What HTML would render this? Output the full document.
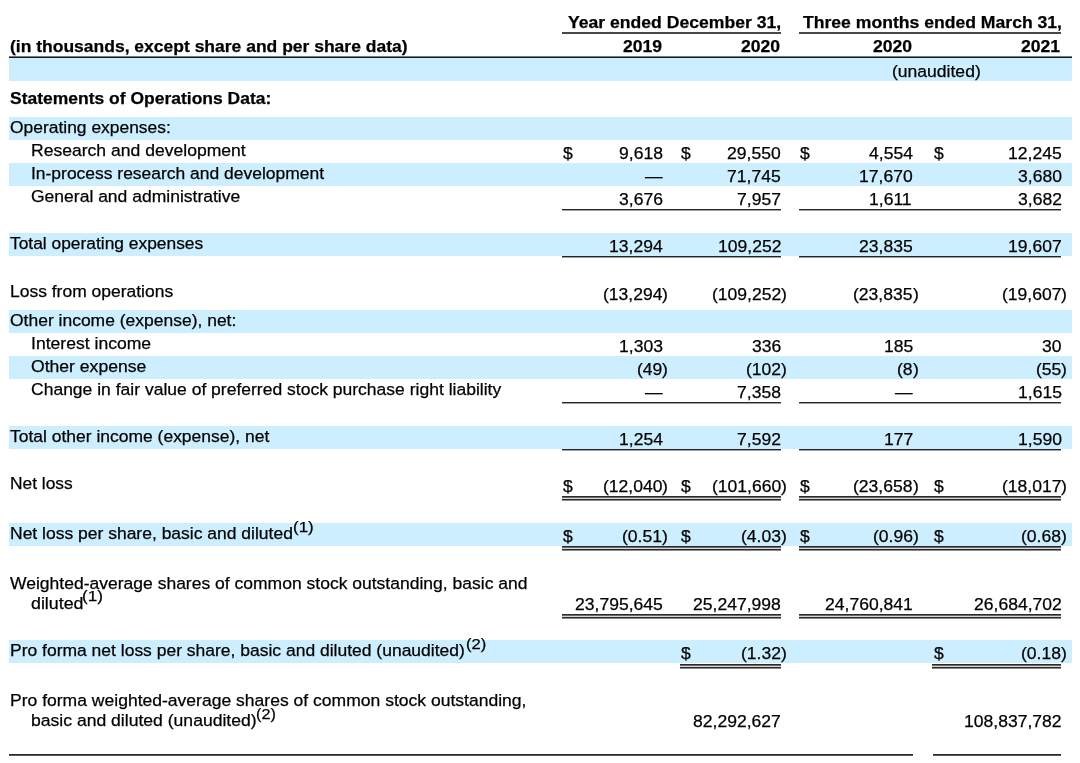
<!DOCTYPE html>
<html><head><meta charset="utf-8"><style>
html,body{margin:0;padding:0;background:#fff;}
body{width:1080px;height:763px;position:relative;overflow:hidden;font-family:"Liberation Sans",sans-serif;color:#000;}
.t,.s{position:absolute;white-space:nowrap;will-change:transform;-webkit-text-stroke:0.25px #000;line-height:20px;transform-origin:0 0;}
.t{font-size:17.2px;transform:scaleX(1.0203);}
.t.b{font-weight:bold;transform:scaleX(1.0233);}
.s{font-size:15.4px;}
.r{position:absolute;}
</style></head><body>
<div class="r" style="left:9px;top:58px;width:1063px;height:23px;background:#cceeff"></div>
<div class="r" style="left:9px;top:117px;width:1063px;height:23px;background:#cceeff"></div>
<div class="r" style="left:9px;top:163px;width:1063px;height:23px;background:#cceeff"></div>
<div class="r" style="left:9px;top:233px;width:1063px;height:23px;background:#cceeff"></div>
<div class="r" style="left:9px;top:310px;width:1063px;height:23px;background:#cceeff"></div>
<div class="r" style="left:9px;top:356px;width:1063px;height:23px;background:#cceeff"></div>
<div class="r" style="left:9px;top:426px;width:1063px;height:23px;background:#cceeff"></div>
<div class="r" style="left:9px;top:523px;width:1063px;height:23px;background:#cceeff"></div>
<div class="r" style="left:9px;top:640px;width:1063px;height:23px;background:#cceeff"></div>
<div class="t b" style="left:568.14px;top:12px">Year ended December 31,</div>
<div class="t b" style="left:802.61px;top:12px">Three months ended March 31,</div>
<div class="r" style="left:562px;top:32px;width:219px;height:1px;background:#484848"></div>
<div class="r" style="left:562px;top:33px;width:219px;height:1px;background:#484848"></div>
<div class="r" style="left:799px;top:32px;width:262px;height:1px;background:#484848"></div>
<div class="r" style="left:799px;top:33px;width:262px;height:1px;background:#484848"></div>
<div class="t b" style="left:622.60px;top:36px">2019</div>
<div class="t b" style="left:741.47px;top:36px">2020</div>
<div class="t b" style="left:872.97px;top:36px">2020</div>
<div class="t b" style="left:1020.54px;top:36px">2021</div>
<div class="r" style="left:9px;top:56px;width:1063px;height:1px;background:#7a7a7a"></div>
<div class="r" style="left:9px;top:57px;width:1063px;height:1px;background:#161616"></div>
<div class="t" style="left:892.30px;top:61px">(unaudited)</div>
<div class="t b" style="left:9.90px;top:36px;transform:scaleX(1.0176)">(in thousands, except share and per share data)</div>
<div class="t b" style="left:9.90px;top:88px;transform:scaleX(1.0170)">Statements of Operations Data:</div>
<div class="t" style="left:9.90px;top:117px;transform:scaleX(1.0140)">Operating expenses:</div>
<div class="t" style="left:31.00px;top:140px;transform:scaleX(1.0213)">Research and development</div>
<div class="t" style="left:31.00px;top:163px;transform:scaleX(1.0155)">In-process research and development</div>
<div class="t" style="left:31.00px;top:186px;transform:scaleX(1.0184)">General and administrative</div>
<div class="t" style="left:9.90px;top:233px;transform:scaleX(1.0109)">Total operating expenses</div>
<div class="t" style="left:9.90px;top:281px;transform:scaleX(1.0166)">Loss from operations</div>
<div class="t" style="left:9.90px;top:310px;transform:scaleX(1.0167)">Other income (expense), net:</div>
<div class="t" style="left:31.00px;top:333px;transform:scaleX(1.0222)">Interest income</div>
<div class="t" style="left:31.00px;top:356px;transform:scaleX(1.0222)">Other expense</div>
<div class="t" style="left:31.00px;top:379px;transform:scaleX(1.0190)">Change in fair value of preferred stock purchase right liability</div>
<div class="t" style="left:9.90px;top:426px;transform:scaleX(1.0164)">Total other income (expense), net</div>
<div class="t" style="left:9.90px;top:473px;transform:scaleX(1.0101)">Net loss</div>
<div class="t" style="left:9.90px;top:523px;transform:scaleX(1.0175)">Net loss per share, basic and diluted</div>
<div class="s" style="left:293.05px;top:517px;transform:scaleX(1.0998)">(1)</div>
<div class="t" style="left:9.90px;top:573px;transform:scaleX(1.0188)">Weighted-average shares of common stock outstanding, basic and</div>
<div class="t" style="left:31.00px;top:593px;transform:scaleX(1.0357)">diluted</div>
<div class="s" style="left:82.23px;top:586px;transform:scaleX(1.1176)">(1)</div>
<div class="t" style="left:9.90px;top:640px;transform:scaleX(1.0172)">Pro forma net loss per share, basic and diluted (unaudited)</div>
<div class="s" style="left:465.67px;top:634px;transform:scaleX(1.0762)">(2)</div>
<div class="t" style="left:9.90px;top:690px;transform:scaleX(1.0200)">Pro forma weighted-average shares of common stock outstanding,</div>
<div class="t" style="left:31.00px;top:710px;transform:scaleX(1.0222)">basic and diluted (unaudited)</div>
<div class="s" style="left:256.29px;top:704px;transform:scaleX(1.0525)">(2)</div>
<div class="t" style="left:562.50px;top:143px">$</div>
<div class="t" style="left:618.53px;top:143px">9,618</div>
<div class="t" style="left:681.30px;top:143px">$</div>
<div class="t" style="left:727.37px;top:143px">29,550</div>
<div class="t" style="left:800.00px;top:143px">$</div>
<div class="t" style="left:869.03px;top:143px">4,554</div>
<div class="t" style="left:933.50px;top:143px">$</div>
<div class="t" style="left:1007.77px;top:143px">12,245</div>
<div class="t" style="left:644.90px;top:166px">—</div>
<div class="t" style="left:727.37px;top:166px">71,745</div>
<div class="t" style="left:859.27px;top:166px">17,670</div>
<div class="t" style="left:1017.53px;top:166px">3,680</div>
<div class="t" style="left:618.53px;top:189px">3,676</div>
<div class="t" style="left:737.13px;top:189px">7,957</div>
<div class="t" style="left:869.03px;top:189px">1,611</div>
<div class="t" style="left:1017.53px;top:189px">3,682</div>
<div class="t" style="left:608.77px;top:236px">13,294</div>
<div class="t" style="left:717.61px;top:236px">109,252</div>
<div class="t" style="left:859.27px;top:236px">23,835</div>
<div class="t" style="left:1007.77px;top:236px">19,607</div>
<div class="t" style="left:602.93px;top:284px">(13,294</div>
<div class="t" style="left:662.45px;top:284px">)</div>
<div class="t" style="left:711.77px;top:284px">(109,252</div>
<div class="t" style="left:781.05px;top:284px">)</div>
<div class="t" style="left:853.43px;top:284px">(23,835</div>
<div class="t" style="left:912.95px;top:284px">)</div>
<div class="t" style="left:1001.93px;top:284px">(19,607</div>
<div class="t" style="left:1061.45px;top:284px">)</div>
<div class="t" style="left:618.53px;top:336px">1,303</div>
<div class="t" style="left:751.77px;top:336px">336</div>
<div class="t" style="left:883.67px;top:336px">185</div>
<div class="t" style="left:1041.93px;top:336px">30</div>
<div class="t" style="left:637.08px;top:359px">(49</div>
<div class="t" style="left:662.45px;top:359px">)</div>
<div class="t" style="left:745.92px;top:359px">(102</div>
<div class="t" style="left:781.05px;top:359px">)</div>
<div class="t" style="left:897.35px;top:359px">(8</div>
<div class="t" style="left:912.95px;top:359px">)</div>
<div class="t" style="left:1036.08px;top:359px">(55</div>
<div class="t" style="left:1061.45px;top:359px">)</div>
<div class="t" style="left:644.90px;top:382px">—</div>
<div class="t" style="left:737.13px;top:382px">7,358</div>
<div class="t" style="left:895.40px;top:382px">—</div>
<div class="t" style="left:1017.53px;top:382px">1,615</div>
<div class="t" style="left:618.53px;top:429px">1,254</div>
<div class="t" style="left:737.13px;top:429px">7,592</div>
<div class="t" style="left:883.67px;top:429px">177</div>
<div class="t" style="left:1017.53px;top:429px">1,590</div>
<div class="t" style="left:562.50px;top:476px">$</div>
<div class="t" style="left:602.93px;top:476px">(12,040</div>
<div class="t" style="left:662.45px;top:476px">)</div>
<div class="t" style="left:681.30px;top:476px">$</div>
<div class="t" style="left:711.77px;top:476px">(101,660</div>
<div class="t" style="left:781.05px;top:476px">)</div>
<div class="t" style="left:800.00px;top:476px">$</div>
<div class="t" style="left:853.43px;top:476px">(23,658</div>
<div class="t" style="left:912.95px;top:476px">)</div>
<div class="t" style="left:933.50px;top:476px">$</div>
<div class="t" style="left:1001.93px;top:476px">(18,017</div>
<div class="t" style="left:1061.45px;top:476px">)</div>
<div class="t" style="left:562.50px;top:526px">$</div>
<div class="t" style="left:622.45px;top:526px">(0.51</div>
<div class="t" style="left:662.45px;top:526px">)</div>
<div class="t" style="left:681.30px;top:526px">$</div>
<div class="t" style="left:741.05px;top:526px">(4.03</div>
<div class="t" style="left:781.05px;top:526px">)</div>
<div class="t" style="left:800.00px;top:526px">$</div>
<div class="t" style="left:872.95px;top:526px">(0.96</div>
<div class="t" style="left:912.95px;top:526px">)</div>
<div class="t" style="left:933.50px;top:526px">$</div>
<div class="t" style="left:1021.45px;top:526px">(0.68</div>
<div class="t" style="left:1061.45px;top:526px">)</div>
<div class="t" style="left:574.61px;top:594px">23,795,645</div>
<div class="t" style="left:693.21px;top:594px">25,247,998</div>
<div class="t" style="left:825.11px;top:594px">24,760,841</div>
<div class="t" style="left:973.61px;top:594px">26,684,702</div>
<div class="t" style="left:681.30px;top:643px">$</div>
<div class="t" style="left:741.05px;top:643px">(1.32</div>
<div class="t" style="left:781.05px;top:643px">)</div>
<div class="t" style="left:933.50px;top:643px">$</div>
<div class="t" style="left:1021.45px;top:643px">(0.18</div>
<div class="t" style="left:1061.45px;top:643px">)</div>
<div class="t" style="left:693.21px;top:711px">82,292,627</div>
<div class="t" style="left:963.85px;top:711px">108,837,782</div>
<div class="r" style="left:562px;top:209px;width:219px;height:1px;background:#262626"></div>
<div class="r" style="left:562px;top:210px;width:219px;height:1px;background:#a0a0a0"></div>
<div class="r" style="left:799px;top:209px;width:262px;height:1px;background:#262626"></div>
<div class="r" style="left:799px;top:210px;width:262px;height:1px;background:#a0a0a0"></div>
<div class="r" style="left:562px;top:256px;width:219px;height:1px;background:#262626"></div>
<div class="r" style="left:562px;top:257px;width:219px;height:1px;background:#a0a0a0"></div>
<div class="r" style="left:799px;top:256px;width:262px;height:1px;background:#262626"></div>
<div class="r" style="left:799px;top:257px;width:262px;height:1px;background:#a0a0a0"></div>
<div class="r" style="left:562px;top:402px;width:219px;height:1px;background:#262626"></div>
<div class="r" style="left:562px;top:403px;width:219px;height:1px;background:#a0a0a0"></div>
<div class="r" style="left:799px;top:402px;width:262px;height:1px;background:#262626"></div>
<div class="r" style="left:799px;top:403px;width:262px;height:1px;background:#a0a0a0"></div>
<div class="r" style="left:562px;top:449px;width:219px;height:1px;background:#262626"></div>
<div class="r" style="left:562px;top:450px;width:219px;height:1px;background:#a0a0a0"></div>
<div class="r" style="left:799px;top:449px;width:262px;height:1px;background:#262626"></div>
<div class="r" style="left:799px;top:450px;width:262px;height:1px;background:#a0a0a0"></div>
<div class="r" style="left:562px;top:496px;width:219px;height:1px;background:#2a2a2a"></div>
<div class="r" style="left:562px;top:497px;width:219px;height:1px;background:#6a6a6a"></div>
<div class="r" style="left:562px;top:498px;width:219px;height:1px;background:#d8d8d8"></div>
<div class="r" style="left:562px;top:499px;width:219px;height:1px;background:#2a2a2a"></div>
<div class="r" style="left:562px;top:500px;width:219px;height:1px;background:#8a8a8a"></div>
<div class="r" style="left:799px;top:496px;width:262px;height:1px;background:#2a2a2a"></div>
<div class="r" style="left:799px;top:497px;width:262px;height:1px;background:#6a6a6a"></div>
<div class="r" style="left:799px;top:498px;width:262px;height:1px;background:#d8d8d8"></div>
<div class="r" style="left:799px;top:499px;width:262px;height:1px;background:#2a2a2a"></div>
<div class="r" style="left:799px;top:500px;width:262px;height:1px;background:#8a8a8a"></div>
<div class="r" style="left:562px;top:546px;width:219px;height:1px;background:#2a2a2a"></div>
<div class="r" style="left:562px;top:547px;width:219px;height:1px;background:#6a6a6a"></div>
<div class="r" style="left:562px;top:548px;width:219px;height:1px;background:#d8d8d8"></div>
<div class="r" style="left:562px;top:549px;width:219px;height:1px;background:#2a2a2a"></div>
<div class="r" style="left:562px;top:550px;width:219px;height:1px;background:#8a8a8a"></div>
<div class="r" style="left:799px;top:546px;width:262px;height:1px;background:#2a2a2a"></div>
<div class="r" style="left:799px;top:547px;width:262px;height:1px;background:#6a6a6a"></div>
<div class="r" style="left:799px;top:548px;width:262px;height:1px;background:#d8d8d8"></div>
<div class="r" style="left:799px;top:549px;width:262px;height:1px;background:#2a2a2a"></div>
<div class="r" style="left:799px;top:550px;width:262px;height:1px;background:#8a8a8a"></div>
<div class="r" style="left:562px;top:614px;width:219px;height:1px;background:#2a2a2a"></div>
<div class="r" style="left:562px;top:615px;width:219px;height:1px;background:#6a6a6a"></div>
<div class="r" style="left:562px;top:616px;width:219px;height:1px;background:#d8d8d8"></div>
<div class="r" style="left:562px;top:617px;width:219px;height:1px;background:#2a2a2a"></div>
<div class="r" style="left:562px;top:618px;width:219px;height:1px;background:#8a8a8a"></div>
<div class="r" style="left:799px;top:614px;width:262px;height:1px;background:#2a2a2a"></div>
<div class="r" style="left:799px;top:615px;width:262px;height:1px;background:#6a6a6a"></div>
<div class="r" style="left:799px;top:616px;width:262px;height:1px;background:#d8d8d8"></div>
<div class="r" style="left:799px;top:617px;width:262px;height:1px;background:#2a2a2a"></div>
<div class="r" style="left:799px;top:618px;width:262px;height:1px;background:#8a8a8a"></div>
<div class="r" style="left:680px;top:664px;width:101px;height:1px;background:#2a2a2a"></div>
<div class="r" style="left:680px;top:665px;width:101px;height:1px;background:#6a6a6a"></div>
<div class="r" style="left:680px;top:666px;width:101px;height:1px;background:#d8d8d8"></div>
<div class="r" style="left:680px;top:667px;width:101px;height:1px;background:#2a2a2a"></div>
<div class="r" style="left:680px;top:668px;width:101px;height:1px;background:#8a8a8a"></div>
<div class="r" style="left:932px;top:664px;width:129px;height:1px;background:#2a2a2a"></div>
<div class="r" style="left:932px;top:665px;width:129px;height:1px;background:#6a6a6a"></div>
<div class="r" style="left:932px;top:666px;width:129px;height:1px;background:#d8d8d8"></div>
<div class="r" style="left:932px;top:667px;width:129px;height:1px;background:#2a2a2a"></div>
<div class="r" style="left:932px;top:668px;width:129px;height:1px;background:#8a8a8a"></div>
<div class="r" style="left:9px;top:754px;width:904px;height:1px;background:#2a2a2a"></div>
<div class="r" style="left:9px;top:755px;width:904px;height:1px;background:#5a5a5a"></div>
<div class="r" style="left:933px;top:754px;width:128px;height:1px;background:#2a2a2a"></div>
<div class="r" style="left:933px;top:755px;width:128px;height:1px;background:#5a5a5a"></div>
</body></html>
